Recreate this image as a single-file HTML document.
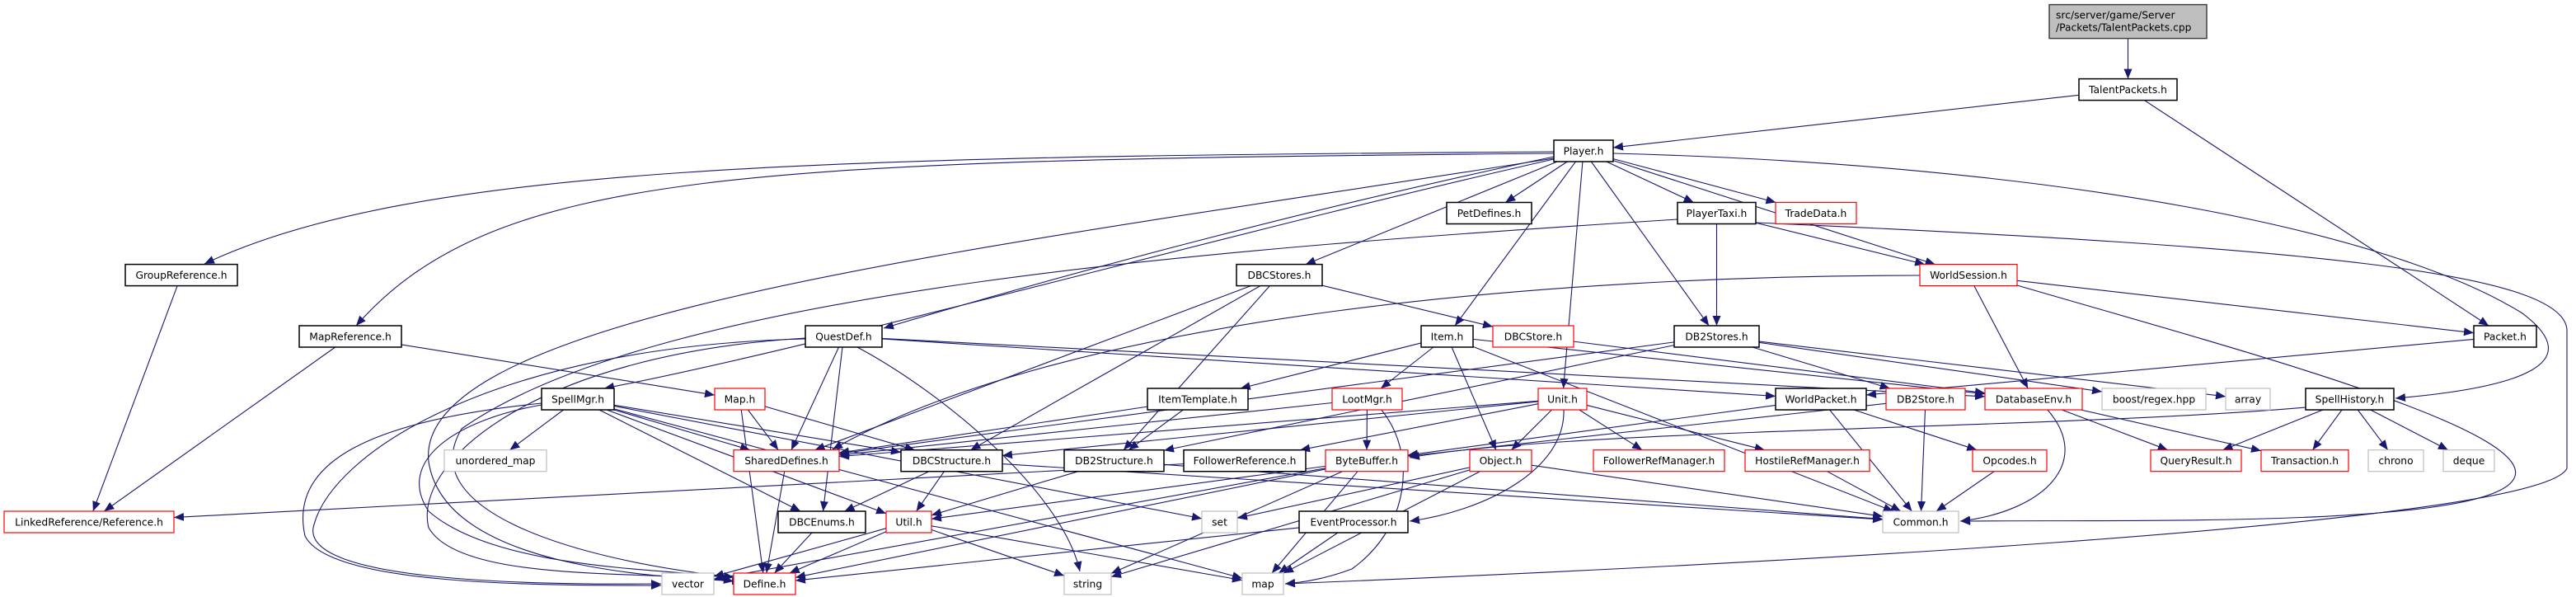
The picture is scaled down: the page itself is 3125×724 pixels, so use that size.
<!DOCTYPE html>
<html><head><meta charset="utf-8"><style>
html,body{margin:0;padding:0;background:#fff;width:3125px;height:724px;overflow:hidden}
svg{display:block}
text{font-family:"DejaVu Sans","Liberation Sans",sans-serif;font-size:12.3px;fill:#000}
</style></head><body>
<svg id="g" width="3125" height="724" xmlns="http://www.w3.org/2000/svg">
<defs><marker id="a" markerWidth="12" markerHeight="10" refX="12" refY="5" orient="auto" markerUnits="userSpaceOnUse"><path d="M0,0 L12,5 L0,10 z" fill="#191970"/></marker></defs>
<g id="e" fill="none" stroke="#191970" stroke-width="1.1"></g>
<g id="n"></g>
</svg>
<script>
var R=[5.6,95.6,170,245.5,320.6,395,471,545.7,620,695];
var H=26;
var N={
cpp:["",2486,2677,0,"c"],
tp:["TalentPackets.h",2522,2641,1,"b"],
pl:["Player.h",1885,1957,2,"b"],
pet:["PetDefines.h",1755,1858,3,"b"],
ptx:["PlayerTaxi.h",2035,2130,3,"b"],
td:["TradeData.h",2154,2252,3,"r"],
gr:["GroupReference.h",152,288,4,"b"],
dbcs:["DBCStores.h",1500,1604,4,"b"],
ws:["WorldSession.h",2329,2447,4,"r"],
mr:["MapReference.h",363,487,5,"b"],
qd:["QuestDef.h",977,1070,5,"b"],
it:["Item.h",1724,1787,5,"b"],
dbc:["DBCStore.h",1811,1909,5,"r"],
d2s:["DB2Stores.h",2031,2134,5,"b"],
pk:["Packet.h",3001,3077,5,"b"],
sm:["SpellMgr.h",657,745,6,"b"],
mp:["Map.h",867,928,6,"r"],
itt:["ItemTemplate.h",1392,1514,6,"b"],
lm:["LootMgr.h",1616,1701,6,"r"],
un:["Unit.h",1866,1925,6,"r"],
wp:["WorldPacket.h",2154,2264,6,"b"],
d2st:["DB2Store.h",2288,2384,6,"r"],
de:["DatabaseEnv.h",2408,2526,6,"r"],
br:["boost/regex.hpp",2550,2676,6,"g"],
ar:["array",2700,2754,6,"g"],
sh:["SpellHistory.h",2797,2904,6,"b"],
um:["unordered_map",539,663,7,"g"],
sd:["SharedDefines.h",890,1018,7,"r"],
dbst:["DBCStructure.h",1093,1216,7,"b"],
d2str:["DB2Structure.h",1291,1412,7,"b"],
fr:["FollowerReference.h",1436,1584,7,"b"],
bb:["ByteBuffer.h",1608,1708,7,"r"],
ob:["Object.h",1783,1858,7,"r"],
frm:["FollowerRefManager.h",1933,2092,7,"r"],
hrm:["HostileRefManager.h",2117,2268,7,"r"],
op:["Opcodes.h",2393,2483,7,"r"],
qr:["QueryResult.h",2609,2719,7,"r"],
tr:["Transaction.h",2743,2849,7,"r"],
ch:["chrono",2873,2940,7,"g"],
dq:["deque",2964,3026,7,"g"],
lr:["LinkedReference/Reference.h",5,211,8,"r"],
dbe:["DBCEnums.h",944,1050,8,"b"],
ut:["Util.h",1075,1130,8,"r"],
set:["set",1458,1501,8,"g"],
ep:["EventProcessor.h",1576,1708,8,"b"],
cm:["Common.h",2284,2376,8,"g"],
vec:["vector",803,866,9,"g"],
df:["Define.h",890,965,9,"r"],
str:["string",1291,1348,9,"g"],
map:["map",1507,1557,9,"g"]
};
var C={
"pl gr":"M1885,184 C1000,190 500,200 248,320",
"pl mr":"M1885,186 C900,195 600,205 432,395",
"pl qd":"M1885,190 C1600,250 1300,330 1072,398",
"pl sm":"M1885,193 C1500,280 1000,420 733,471",
"pl df":"M1885,192 C1200,300 500,380 520,560 C540,690 800,700 900,705",
"pl sh":"M1957,186 C2500,200 2900,280 3060,380 C3140,440 3060,470 2906,483",
"ptx map":"M2130,270 C2800,300 3110,330 3114,400 L3114,568 C3080,640 2000,690 1559,708",
"ptx df":"M2035,266 C1500,300 800,350 560,520 C500,620 700,680 890,700",
"ws cm":"M2447,346 C2700,420 3080,520 3050,580 C3020,640 2600,630 2378,632",
"ws sd":"M2329,334 C1900,334 1300,380 1010,545",
"sh bb":"M2797,494 C2500,520 1900,520 1710,555",
"qd vec":"M977,411 C600,420 400,550 380,640 C370,700 600,710 802,708",
"qd df":"M977,410 C650,430 500,560 520,640 C560,710 800,690 890,705",
"sm vec":"M657,489 C450,510 350,560 370,650 C400,710 650,710 802,710",
"sm df":"M657,491 C550,510 480,560 520,620 C600,690 800,690 890,700",
"qd str":"M1040,421 C1150,480 1290,600 1310,693",
"lm map":"M1675,496 C1720,550 1710,640 1640,690 C1600,705 1570,707 1559,708",
"un ep":"M1897,496 C1900,570 1800,620 1710,632",
"de cm":"M2483,496 C2540,560 2480,620 2378,632"
};
var E="cpp tp|tp pl|tp pk|pl gr|pl mr|pl qd|pl sm|pl dbcs|pl pet|pl ptx|pl td|pl ws|pl it|pl un|pl d2s|pl sh|pl df|ptx ws|ptx d2s|ptx df|ptx map|gr lr|mr lr|mr mp|qd sd|qd vec|qd df|qd str|qd wp|qd de|qd dbe|sm um|sm sd|sm dbst|sm df|sm vec|sm set|sm map|sm ut|sm dbe|mp sd|mp df|mp dbst|dbcs dbc|dbcs sd|dbcs dbst|dbcs d2str|dbc de|it itt|it lm|it ob|it de|it cm|itt sd|itt d2str|lm bb|lm sd|lm map|un ob|un fr|un frm|un hrm|un ep|un sd|un dbst|d2s d2st|d2s d2str|d2s sd|d2s br|d2s ar|ws pk|ws de|ws sd|ws cm|pk wp|wp bb|wp op|wp cm|d2st cm|d2st bb|de qr|de tr|de cm|sh qr|sh tr|sh ch|sh dq|sh bb|dbst dbe|dbst ut|dbst cm|d2str ut|d2str cm|fr lr|bb df|bb ut|bb str|bb map|bb vec|ob cm|ob set|ob str|ob map|hrm cm|op cm|dbe df|sd df|ut df|ut str|ut map|ut vec|ep df|ep map";
var ns="http://www.w3.org/2000/svg";
function box(k){var n=N[k];return {x1:n[1],x2:n[2],y1:R[n[3]],y2:R[n[3]]+(k=="cpp"?41:H)};}
function clip(b,px,py,qx,qy){
 var dx=qx-px,dy=qy-py,hw=(b.x2-b.x1)/2,hh=(b.y2-b.y1)/2,t=1;
 if(dx!=0)t=Math.min(t,Math.abs(hw/dx));
 if(dy!=0)t=Math.min(t,Math.abs(hh/dy));
 return [px+dx*t,py+dy*t];}
var eg=document.getElementById("e");
E.split("|").forEach(function(s){var p=s.split(" "),a=box(p[0]),b=box(p[1]);
 var d=C[s];
 if(!d){
 var ax=(a.x1+a.x2)/2,ay=(a.y1+a.y2)/2,bx=(b.x1+b.x2)/2,by=(b.y1+b.y2)/2;
 var s1=clip(a,ax,ay,bx,by),s2=clip(b,bx,by,ax,ay);
 d="M"+s1[0]+","+s1[1]+" L"+s2[0]+","+s2[1];}
 var l=document.createElementNS(ns,"path");
 l.setAttribute("d",d);
 l.setAttribute("marker-end","url(#a)");eg.appendChild(l);});
var ng=document.getElementById("n");
for(var k in N){var n=N[k],b=box(k);
 var r=document.createElementNS(ns,"rect");
 r.setAttribute("x",b.x1);r.setAttribute("y",b.y1);r.setAttribute("width",b.x2-b.x1);r.setAttribute("height",b.y2-b.y1);
 var st=n[4];
 r.setAttribute("fill",st=="c"?"#bfbfbf":"#fff");
 r.setAttribute("stroke",st=="r"?"#ff0000":st=="g"?"#bfbfbf":st=="c"?"#404040":"#000");
 r.setAttribute("stroke-width",st=="b"||st=="c"?"1.5":"1.2");
 ng.appendChild(r);
 if(k=="cpp"){
  ["src/server/game/Server","/Packets/TalentPackets.cpp"].forEach(function(t,i){var x=document.createElementNS(ns,"text");
  x.setAttribute("x",b.x1+8);x.setAttribute("y",b.y1+17+i*15);x.textContent=t;ng.appendChild(x);});
 } else {
  var x=document.createElementNS(ns,"text");x.setAttribute("x",(b.x1+b.x2)/2);x.setAttribute("y",b.y1+17.5);
  x.setAttribute("text-anchor","middle");x.textContent=n[0];ng.appendChild(x);}
}
</script>
</body></html>
